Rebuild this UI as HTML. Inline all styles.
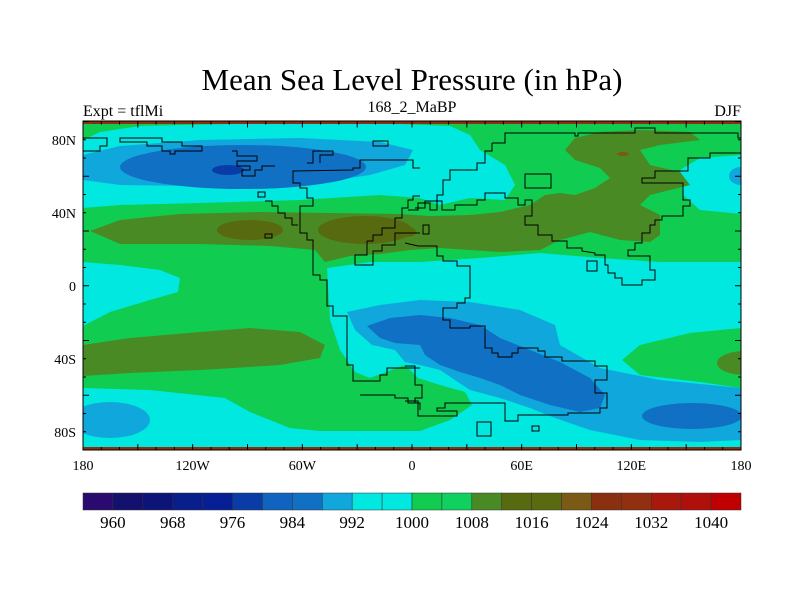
<!DOCTYPE html>
<html><head><meta charset="utf-8"><style>
html,body{margin:0;padding:0;background:#fff;}
svg{display:block;font-family:"Liberation Serif",serif;}
</style></head><body>
<svg id="chart" width="800" height="600" viewBox="0 0 800 600">
<text x="412" y="90" font-size="31" text-anchor="middle">Mean Sea Level Pressure (in hPa)</text>
<text x="83" y="116" font-size="16">Expt = tflMi</text>
<text x="412" y="112" font-size="16" text-anchor="middle">168_2_MaBP</text>
<text x="741" y="116" font-size="16" text-anchor="end">DJF</text>
<defs><clipPath id="pc"><rect x="83" y="121" width="658" height="329"/></clipPath></defs>
<g clip-path="url(#pc)">
<rect x="83" y="121" width="658" height="329" fill="#10cc50"/>
<path fill="#00e8e0" d="M83,140 L100,132 L140,126 L230,124 L330,123 L400,124 L450,126 L470,135 L480,150 L505,165 L515,185 L505,200 L470,198 L440,205 L420,198 L380,195 L300,200 L200,203 L120,205 L83,208 Z"/>
<path fill="#00e8e0" d="M741,155 L700,158 L680,170 L683,195 L700,210 L741,214 Z"/>
<path fill="#00e8e0" d="M83,262 L120,265 L160,270 L180,278 L178,292 L150,300 L110,312 L83,326 Z"/>
<path fill="#00e8e0" d="M327,268 L370,262 L420,262 L480,258 L540,253 L600,258 L660,262 L741,262 L741,328 L690,333 L640,345 L622,360 L640,375 L700,382 L741,388 L741,450 L250,450 L250,431 L420,431 L450,420 L472,405 L465,392 L440,385 L418,378 L405,365 L370,378 L355,372 L340,350 L330,320 Z"/>
<path fill="#00e8e0" d="M83,388 L150,390 L225,398 L250,412 L290,428 L330,432 L330,450 L83,450 Z"/>
<path fill="#10a8dc" d="M83,155 L120,146 L200,140 L300,138 L380,142 L413,150 L405,165 L370,175 L300,185 L200,186 L120,185 L83,180 Z"/>
<ellipse fill="#10a8dc" cx="741" cy="176" rx="12" ry="9"/>
<path fill="#10a8dc" d="M347,312 L380,305 L420,300 L470,302 L520,310 L555,325 L560,345 L600,368 L660,380 L741,388 L741,440 L700,442 L640,440 L590,430 L555,418 L530,408 L500,398 L470,390 L440,370 L420,365 L405,362 L395,350 L372,345 L355,330 Z"/>
<ellipse fill="#10a8dc" cx="110" cy="420" rx="40" ry="18"/>
<ellipse fill="#1070c4" cx="243" cy="167" rx="123" ry="22"/>
<path fill="#1070c4" d="M367,326 L390,318 L420,315 L450,318 L480,325 L500,338 L530,350 L560,362 L590,378 L605,395 L600,408 L580,412 L550,405 L520,395 L500,385 L480,378 L460,372 L440,365 L425,355 L420,345 L395,343 L380,338 Z"/>
<ellipse fill="#1070c4" cx="692" cy="416" rx="50" ry="13"/>
<ellipse fill="#0a3ca8" cx="228" cy="170" rx="16" ry="5"/>
<path fill="#4a8a24" d="M90,231 L120,220 L180,214 L260,212 L330,213 L400,214 L430,216 L470,215 L500,212 L530,205 L545,195 L560,193 L575,195 L595,188 L610,178 L600,168 L575,160 L565,150 L575,138 L600,132 L640,130 L690,132 L700,140 L660,145 L640,150 L650,165 L680,172 L690,185 L650,195 L640,205 L660,215 L660,235 L650,242 L620,240 L590,232 L560,240 L540,250 L500,252 L470,250 L440,248 L410,250 L380,254 L350,256 L325,262 L315,250 L270,246 L200,244 L120,244 Z"/>
<path fill="#4a8a24" d="M83,345 L130,338 L200,332 L250,328 L300,332 L325,345 L320,358 L280,365 L200,370 L130,373 L83,376 Z"/>
<ellipse fill="#4a8a24" cx="745" cy="363" rx="28" ry="12"/>
<ellipse fill="#586a10" cx="250" cy="230" rx="33" ry="10"/>
<ellipse fill="#586a10" cx="365" cy="230" rx="47" ry="14"/>
<ellipse fill="#586a10" cx="408" cy="232" rx="8" ry="5"/>
<ellipse fill="#7a5a14" cx="623" cy="154" rx="6" ry="2"/>
<rect x="83" y="121" width="658" height="3" fill="#8a3010"/>
<rect x="83" y="447" width="658" height="3" fill="#8a3010"/>
<g fill="none" stroke="#000" stroke-width="1">
<polyline points="83,138 107,138 107,146 100,146 100,151 83,151"/>
<polygon points="120,138 162,138 162,142 182,142 182,146 202,146 202,151 175,151 175,154 170,154 170,151 162,151 162,146 147,146 147,142 120,142"/>
<polygon points="373,141 388,141 388,146 373,146"/>
<polyline points="232,151 237,151 237,156 257,156 257,161 237,161 237,166 250,166 250,170 242,170 242,176 255,176 255,170 262,170 262,166 275,166"/>
<polyline points="307,163 313,163 313,151 333,151 333,155 320,155 320,163"/>
<polyline points="420,168 413,168 413,160 360,160 360,168 353,168 353,170 293,171 293,183 300,183 300,188 307,188 307,198 313,198 313,206 300,206 300,233 307,233 307,240 313,240 313,275 320,275 320,280 327,280 327,306 333,306 333,316 347,316 347,365 353,365 353,381 380,381 380,375 387,375 387,368 420,368"/>
<polyline points="265,201 272,201 272,206 278,206 278,213 285,213 285,218 292,218 292,225 298,225"/>
<rect x="258" y="192" width="7" height="5"/>
<rect x="265" y="234" width="7" height="4"/>
<polyline points="367,241 367,255 355,255 355,265 373,265 373,251 382,251 382,245 395,245 395,233 420,233"/>
<polyline points="367,241 373,241 373,235 382,235 382,228 395,228 395,218 402,218 402,208 408,208 408,200 413,200 413,196 420,196"/>
<polyline points="360,395 395,395 395,398 408,398 408,403 420,403 420,410"/>
<polyline points="492,143 505,143 505,133 575,133 575,136 578,136 578,133 635,133 635,128 655,128 655,133 738,133 738,138 741,138"/>
<polyline points="492,143 492,151 485,151 485,163 477,163 477,170 450,170 450,180 443,180 443,195 437,195 437,210 430,210 430,203 418,203 418,210 408,210"/>
<polyline points="415,208 425,208 425,201 442,201 442,210 455,210 455,205 477,205 477,200 485,200 485,193 505,193 505,198 518,198 518,205 525,205 525,200 532,200 532,216 525,216 525,225 538,225 538,235 552,235 552,241 567,241 567,248 582,248 582,251 595,253 595,255 605,255 605,265 608,265 608,273 615,273 615,278 622,278 622,285 642,285 642,280 655,280 655,270 650,270 650,256 628,256 628,250 635,250 635,243 642,243 642,233 650,233 650,225 655,225 655,220 662,220 662,216 683,216 683,206 690,206 690,200 683,200 683,183 642,183 642,178 655,178 655,171 688,171 688,158 710,158 710,153 741,153"/>
<rect x="525" y="174" width="26" height="14"/>
<rect x="423" y="225" width="6" height="9"/>
<rect x="587" y="261" width="10" height="10"/>
<polyline points="405,243 418,246 437,246 437,256 443,256 443,261 457,261 457,266 470,266 470,298 465,298 465,303 457,303 457,308 443,308 443,320 450,320 450,328 470,328 470,326 485,326 485,348 492,348 492,353 498,353 498,357 512,357 512,353 518,353 518,348 538,348 538,351 545,351 545,357 562,357 562,361 595,361 595,366 607,366 607,380 595,380 595,393 607,393 607,408 600,408 600,413 568,413 568,415 518,415 518,421 505,421 505,403 445,403 445,408 437,408 437,411 457,411 457,416 418,416 418,401 405,401"/>
<polyline points="405,366 415,366 415,385 422,385 422,398 415,398 415,403"/>
<rect x="477" y="422" width="14" height="14"/>
<rect x="532" y="426" width="7" height="5"/>
</g>
</g>
<rect x="83" y="121" width="658" height="329" fill="none" stroke="#000" stroke-width="1"/>
<g id="axes" font-size="14"></g>
<g id="cbar" font-size="17"></g>
</svg>
<script>
const lonTicks = [-180, -120, -60, 0, 60, 120, 180];
const lonLabels = ["180", "120W", "60W", "0", "60E", "120E", "180"];
const latTicks = [80, 40, 0, -40, -80];
const latLabels = ["80N", "40N", "0", "40S", "80S"];
const levels = [960, 964, 968, 972, 976, 980, 984, 988, 992, 996, 1000, 1004, 1008, 1012, 1016, 1020, 1024, 1028, 1032, 1036, 1040];
const levelColors = ["#2a0a6e","#14106e","#0c1478","#081e8a","#061e96","#0a3ca8","#1064c0","#1070c4","#10a8dc","#00e8e0","#00e8e0","#10cc50","#10d060","#4a8a24","#586a10","#5a6a10","#7a5a14","#8a3010","#903010","#a8180c","#b0100c","#c00000"];
const labelEvery = 2;
const NS = "http://www.w3.org/2000/svg";
const X0 = 83, X1 = 741, Y0 = 121.5, Y1 = 450;
const xLon = lon => X0 + (lon + 180) / 360 * (X1 - X0);
const yLat = lat => Y0 + (90 - lat) / 180 * (Y1 - Y0);
function mk(tag, attrs, parent) {
  const e = document.createElementNS(NS, tag);
  for (const k in attrs) e.setAttribute(k, attrs[k]);
  parent.appendChild(e);
  return e;
}
const axes = document.getElementById("axes");
for (let lon = -180; lon <= 180; lon += 10) {
  const len = lon % 30 === 0 ? 6 : 3;
  const x = xLon(lon);
  const t1 = mk("line", {x1: x, x2: x, y1: Y1, y2: Y1 - len, stroke: "#000"}, axes);
  
  
  const t2 = mk("line", {x1: x, x2: x, y1: Y0, y2: Y0 + len, stroke: "#000"}, axes);
  
  
}
for (let lat = -90; lat <= 90; lat += 10) {
  const len = lat % 30 === 0 ? 6 : 3;
  const y = yLat(lat);
  const t1 = mk("line", {x1: X0, x2: X0 + len, y1: y, y2: y, stroke: "#000"}, axes);
  
  
  const t2 = mk("line", {x1: X1, x2: X1 - len, y1: y, y2: y, stroke: "#000"}, axes);
  
  
}
lonTicks.forEach((lon, i) => {
  const t = mk("text", {x: xLon(lon), y: 470, "text-anchor": "middle"}, axes);
  t.textContent = lonLabels[i];
  
  
});
latTicks.forEach((lat, i) => {
  const t = mk("text", {x: 76, y: yLat(lat) + 5, "text-anchor": "end"}, axes);
  t.textContent = latLabels[i];
  
  
});
const cb = document.getElementById("cbar");
const CB0 = 83, CB1 = 741, CBY = 493, CBH = 17;
const bw = (CB1 - CB0) / levelColors.length;
levelColors.forEach((c, i) => {
  const r = mk("rect", {x: CB0 + i * bw, y: CBY, width: bw, height: CBH, fill: c, stroke: "#333", "stroke-width": 0.5}, cb);
  
  
});
levels.forEach((lv, i) => {
  if (i % labelEvery !== 0) return;
  const t = mk("text", {x: CB0 + (i + 1) * bw, y: 528, "text-anchor": "middle"}, cb);
  t.textContent = lv;
  
  
});
</script>
</body></html>
